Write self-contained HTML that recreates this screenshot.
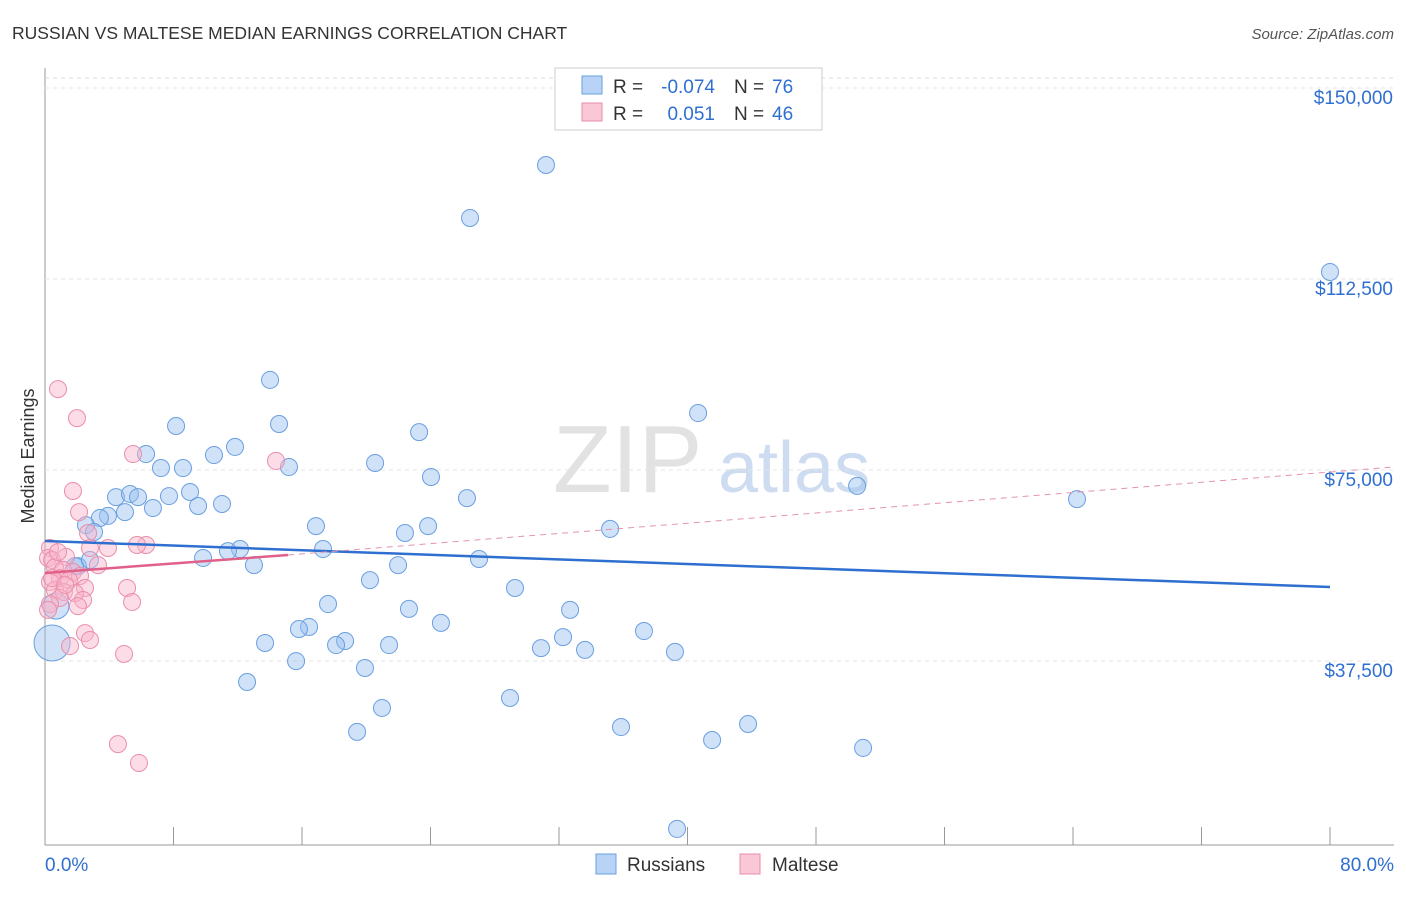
<!DOCTYPE html>
<html><head><meta charset="utf-8"><style>
body{margin:0;background:#fff;font-family:"Liberation Sans",sans-serif;}
svg text{font-family:"Liberation Sans",sans-serif;}
</style></head><body>
<svg id="c" width="1406" height="892">
<text x="12" y="39" font-size="17.5" fill="#333">RUSSIAN VS MALTESE MEDIAN EARNINGS CORRELATION CHART</text>
<text x="1394" y="39" font-size="15" fill="#555" text-anchor="end" font-style="italic">Source: ZipAtlas.com</text>
<text x="553" y="492" font-size="96" fill="#e2e2e2" font-family="Liberation Serif">ZIP</text>
<text x="718" y="492" font-size="72" fill="#cddcf0">atlas</text>
<text x="34" y="456" font-size="18" fill="#333" text-anchor="middle" transform="rotate(-90 34 456)">Median Earnings</text>
<g id="grid"></g><g id="marks"></g>
<g>
<rect x="555" y="68" width="267" height="62" fill="#fff" stroke="#ccc"/>
<rect x="582" y="76" width="20" height="18" fill="#b8d3f5" stroke="#6a9fe0"/>
<rect x="582" y="103" width="20" height="18" fill="#f9c7d6" stroke="#ea8eaa"/>
<text x="613" y="93" font-size="19" fill="#333">R =</text>
<text x="715" y="93" font-size="19" fill="#2f6fd0" text-anchor="end">-0.074</text>
<text x="734" y="93" font-size="19" fill="#333">N =</text>
<text x="772" y="93" font-size="19" fill="#2f6fd0">76</text>
<text x="613" y="120" font-size="19" fill="#333">R =</text>
<text x="715" y="120" font-size="19" fill="#2f6fd0" text-anchor="end">0.051</text>
<text x="734" y="120" font-size="19" fill="#333">N =</text>
<text x="772" y="120" font-size="19" fill="#2f6fd0">46</text>
</g>
<g>
<rect x="596" y="854" width="20" height="20" fill="#b8d3f5" stroke="#6a9fe0"/>
<text x="627" y="871" font-size="19" fill="#333">Russians</text>
<rect x="740" y="854" width="20" height="20" fill="#f9c7d6" stroke="#ea8eaa"/>
<text x="772" y="871" font-size="19" fill="#333">Maltese</text>
</g>
</svg>
<script>
const yTicks=[37500,75000,112500,150000];
const yLabels=["$37,500","$75,000","$112,500","$150,000"];
const xTickPct=[0,8,16,24,32,40,48,56,64,72,80];
const russiansX=[31.19,26.46,80,14.01,40.66,14.57,8.16,23.29,11.83,6.29,10.52,20.55,7.22,8.59,15.19,24.03,50.56,9.03,4.42,5.29,5.79,7.72,26.27,64.25,9.53,11.02,6.72,4.98,3.92,3.42,2.55,16.87,23.85,35.18,22.41,3.05,12.14,17.31,11.39,9.84,27.02,13.01,21.98,2.05,20.23,29.26,17.62,22.66,32.69,24.65,16.44,15.81,37.29,32.25,18.68,18.12,21.42,13.7,30.88,33.62,39.22,15.63,19.92,12.58,28.95,20.98,35.86,43.77,19.43,41.53,50.93,39.35,0.44,0.68,1.87,2.8];
const russiansY=[136650,126250,115650,94450,87950,85800,85400,84200,81300,79900,79700,78150,77150,77150,77350,75400,73650,72450,71450,72050,71450,71650,71250,71050,69700,70100,69300,68500,67750,67350,65950,65750,65750,65200,64400,64600,61250,61250,60850,59500,59300,58100,58100,57900,55150,53600,50450,49500,49300,46750,45950,45550,45150,43950,43200,42400,42400,42800,41800,41450,41050,39250,37900,35150,32000,30050,26300,26900,25350,23750,22200,6300,42800,50050,57900,59100];
const malteseX=[0.81,1.99,1.74,2.12,5.48,14.38,2.68,6.29,5.73,3.92,2.8,0.31,0.19,0.44,1.31,3.3,0.62,1.12,1.74,2.18,0.93,1.49,0.31,2.49,5.11,0.62,1.18,1.87,0.93,2.37,5.42,0.31,2.05,2.49,2.8,1.56,4.92,4.54,5.85,0.19,0.44,0.81,1.25];
const malteseY=[92650,86950,72650,68500,79900,78550,64400,62050,62050,61450,61450,61450,59500,59100,59700,58100,57700,57150,56750,55950,55550,55150,54800,53600,53600,53200,52800,52600,51650,51250,50850,50450,50050,44750,43400,42200,40650,22950,19250,49300,55550,60650,54200];
const ns="http://www.w3.org/2000/svg";
const X0=45,X1=1330,Y0=861,YT=191/37500;
const xs=p=>X0+(p/80)*(X1-X0), ys=v=>Y0-v*YT;
const grid=document.getElementById('grid'), marks=document.getElementById('marks');
function mk(t,a,p){const e=document.createElementNS(ns,t);for(const k in a)e.setAttribute(k,a[k]);p.appendChild(e);return e;}
mk('line',{x1:45,y1:68,x2:45,y2:845,stroke:'#999'},grid);
mk('line',{x1:45,y1:845,x2:1394,y2:845,stroke:'#999'},grid);
mk('line',{x1:45,y1:78,x2:1394,y2:78,stroke:'#ddd','stroke-dasharray':'4,4'},grid);
yTicks.forEach((v,i)=>{
 const g=mk('line',{x1:45,y1:ys(v)-9,x2:1394,y2:ys(v)-9,stroke:'#e4e4e4','stroke-dasharray':'4,4'},grid);
 
 
 const t=mk('text',{x:1393,y:ys(v)+7,'font-size':19,fill:'#2f6fd0','text-anchor':'end'},grid);
 t.textContent=yLabels[i];
 
 
});
xTickPct.forEach(p=>{
 const l=mk('line',{x1:xs(p),y1:827,x2:xs(p),y2:845,stroke:'#999'},grid);
 
 
});
[[0,"0.0%",'start',45],[80,"80.0%",'end',1394]].forEach(d=>{
 const t=mk('text',{x:d[3],y:871,'font-size':19,fill:'#2f6fd0','text-anchor':d[2]},grid);
 t.textContent=d[1];
 
 
});
russiansX.forEach((x,i)=>{
 const r=i==72?18:(i==73?13:8.5);
 const c=mk('circle',{cx:xs(x),cy:ys(russiansY[i]),r:r,fill:'rgba(150,190,240,0.45)',stroke:'#6a9fe0','stroke-width':1},marks);
 
 
});
malteseX.forEach((x,i)=>{
 const c=mk('circle',{cx:xs(x),cy:ys(malteseY[i]),r:8.5,fill:'rgba(248,180,202,0.45)',stroke:'#ea8eaa','stroke-width':1},marks);
 
 
});
let l=mk('line',{x1:45,y1:541,x2:1330,y2:587,stroke:'#2f6fd0','stroke-width':2.5},marks);


l=mk('line',{x1:288,y1:555,x2:1393,y2:467,stroke:'#e493ad','stroke-width':1,'stroke-dasharray':'6,5'},marks);


l=mk('line',{x1:45,y1:573,x2:288,y2:555,stroke:'#e0608a','stroke-width':2.5},marks);


</script>
</body></html>
